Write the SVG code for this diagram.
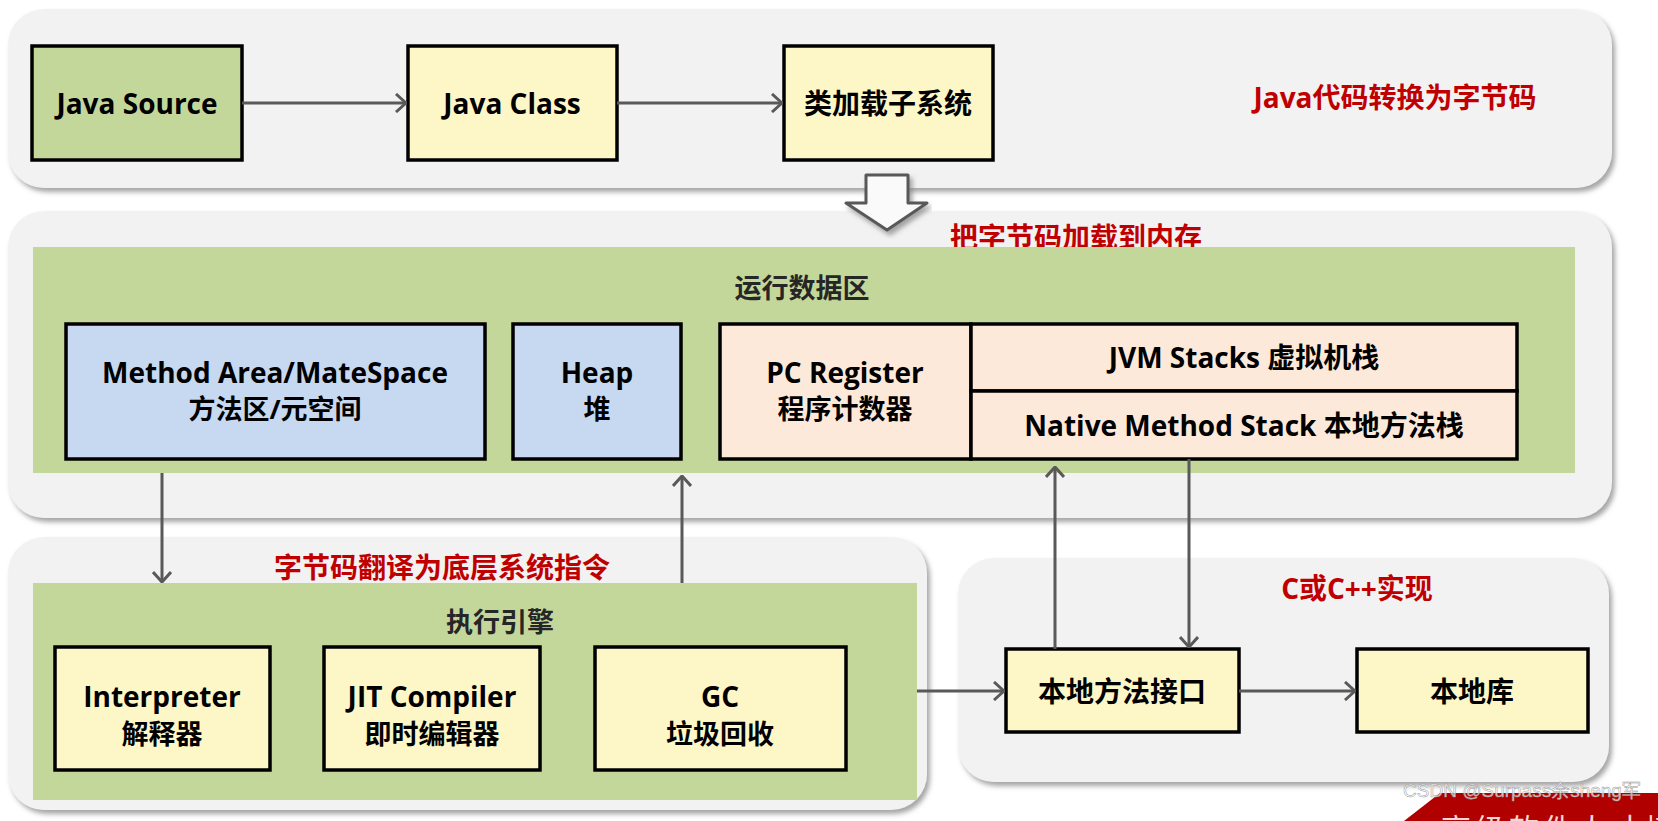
<svg xmlns="http://www.w3.org/2000/svg" width="1658" height="821" viewBox="0 0 1658 821">
<style>
text{font-family:"Open Sans","Noto Sans CJK SC",sans-serif;font-weight:700;text-anchor:middle;dominant-baseline:central}
.panel{fill:#f2f2f2;filter:url(#sh)}
.area{fill:#c4d79b}
.box{stroke:#000;stroke-width:3.5}
.g{fill:#c4d79b}.y{fill:#fdf6c6}.b{fill:#c6d9f1}.p{fill:#fde9d9}
.t{font-size:28px;fill:#000}
.t2{font-size:27px;fill:#000}
.red{font-size:28px;fill:#c00000}
.hd{font-size:27px;fill:#262626}
.c{fill:none;stroke:#595959;stroke-width:3;marker-end:url(#ah)}
</style>
<defs>
<filter id="sh" x="-5%" y="-10%" width="110%" height="125%">
<feDropShadow dx="3" dy="4" stdDeviation="2.5" flood-color="#7f7f7f" flood-opacity="0.7"/>
</filter>
<marker id="ah" viewBox="0 0 12 20" refX="11" refY="10" markerWidth="12" markerHeight="20" markerUnits="userSpaceOnUse" orient="auto">
<path d="M1,1 L11,10 L1,19" fill="none" stroke="#595959" stroke-width="3"/>
</marker>
</defs>
<rect width="1658" height="821" fill="#fff"/>

<g id="panel-top">
<rect class="panel" x="8" y="9" width="1604" height="179" rx="36"/>
<text class="red" x="1395" y="97">Java代码转换为字节码</text>
</g>
<g id="panel-runtime">
<rect class="panel" x="8" y="211" width="1604" height="307" rx="36"/>
<text class="red" x="1076" y="237">把字节码加载到内存</text>
<rect class="area" x="33" y="247" width="1542" height="226"/>
<text class="hd" x="802" y="287">运行数据区</text>
</g>
<g id="panel-exec">
<rect class="panel" x="8" y="537" width="919" height="273" rx="36"/>
<text class="red" x="442" y="567">字节码翻译为底层系统指令</text>
<rect class="area" x="33" y="583" width="884" height="217"/>
<text class="hd" x="500" y="621">执行引擎</text>
</g>
<g id="panel-native">
<rect class="panel" x="958" y="558" width="651" height="224" rx="36"/>
<text class="red" x="1357" y="588">C或C++实现</text>
</g>

<g id="load-arrow">
<polygon points="866,175 908,175 908,203 927,203 887,230 846,203 866,203" fill="#fafafa" stroke="#595959" stroke-width="3" stroke-linejoin="round" filter="url(#sh)"/>
</g>

<g id="java-source"><rect class="box g" x="32" y="46" width="210" height="114"/><text class="t" x="137" y="103">Java Source</text></g>
<g id="java-class"><rect class="box y" x="408" y="46" width="209" height="114"/><text class="t" x="512" y="103">Java Class</text></g>
<g id="class-loader"><rect class="box y" x="784" y="46" width="209" height="114"/><text class="t" x="888" y="103">类加载子系统</text></g>

<g id="method-area"><rect class="box b" x="66" y="324" width="419" height="135"/><text class="t" x="275" y="372">Method Area/MateSpace</text><text class="t2" x="275" y="408">方法区/元空间</text></g>
<g id="heap"><rect class="box b" x="513" y="324" width="168" height="135"/><text class="t" x="597" y="372">Heap</text><text class="t2" x="597" y="408">堆</text></g>
<g id="pc-register"><rect class="box p" x="720" y="324" width="251" height="135"/><text class="t" x="845" y="372">PC Register</text><text class="t2" x="845" y="408">程序计数器</text></g>
<g id="jvm-stacks"><rect class="box p" x="971" y="324" width="546" height="67"/><text class="t" x="1244" y="357">JVM Stacks 虚拟机栈</text></g>
<g id="native-stack"><rect class="box p" x="971" y="391" width="546" height="68"/><text class="t" x="1244" y="425">Native Method Stack 本地方法栈</text></g>

<g id="interpreter"><rect class="box y" x="55" y="647" width="215" height="123"/><text class="t" x="162" y="696">Interpreter</text><text class="t2" x="162" y="733">解释器</text></g>
<g id="jit"><rect class="box y" x="324" y="647" width="216" height="123"/><text class="t" x="432" y="696">JIT Compiler</text><text class="t2" x="432" y="733">即时编辑器</text></g>
<g id="gc"><rect class="box y" x="595" y="647" width="251" height="123"/><text class="t" x="720" y="696">GC</text><text class="t2" x="720" y="733">垃圾回收</text></g>

<g id="jni"><rect class="box y" x="1006" y="649" width="233" height="83"/><text class="t" x="1122" y="691">本地方法接口</text></g>
<g id="native-lib"><rect class="box y" x="1357" y="649" width="231" height="83"/><text class="t" x="1472" y="691">本地库</text></g>

<g id="connectors">
<path class="c" d="M242,103 H406"/>
<path class="c" d="M617,103 H782"/>
<path class="c" d="M162,473 V582"/>
<path class="c" d="M682,583 V476"/>
<path class="c" d="M917,691 H1004"/>
<path class="c" d="M1239,691 H1355"/>
<path class="c" d="M1055,649 V467"/>
<path class="c" d="M1189,459 V647"/>
</g>

<g id="watermark">
<polygon points="1440,793 1658,793 1658,821 1404,821" fill="#b00000"/>
<text x="1560" y="828" style="font-weight:400;font-size:30px;fill:#f3d6d6;letter-spacing:4px">高级软件人才培</text>
<text x="1522" y="790" style="font-family:'Liberation Sans',sans-serif;font-weight:400;font-size:19px;fill:#ffffff;fill-opacity:0.75;stroke:#999;stroke-width:0.5">CSDN @Surpass余sheng军</text>
</g>
</svg>
